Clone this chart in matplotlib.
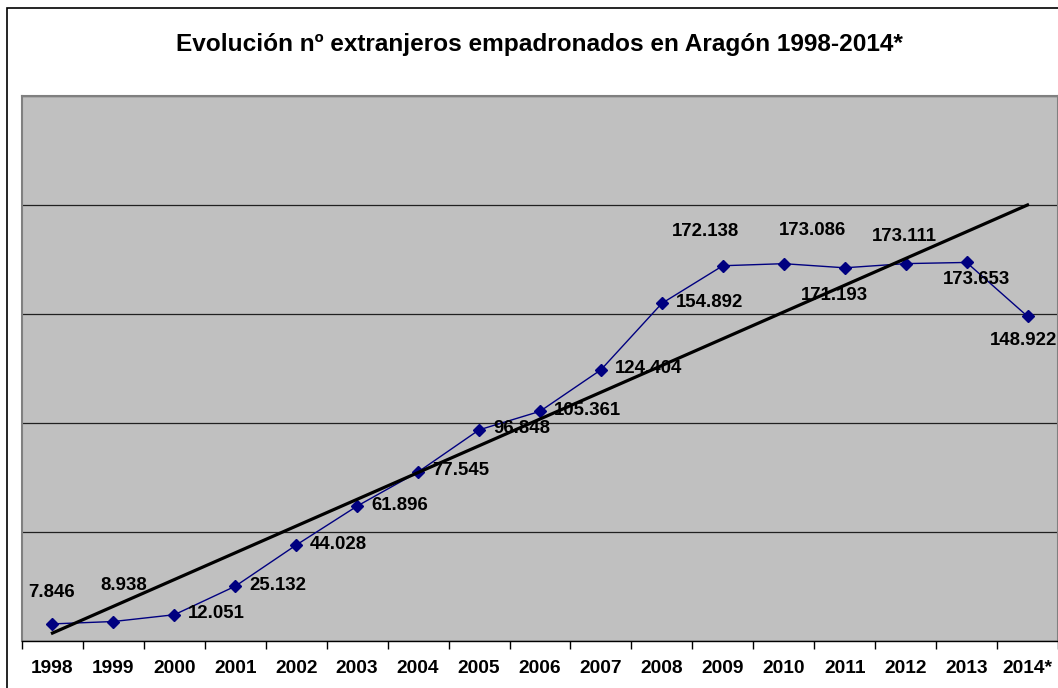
import numpy as np
import matplotlib
matplotlib.use("Agg")
import matplotlib.pyplot as plt
from matplotlib.patches import Rectangle

plt.rcParams['font.family'] = ['Liberation Sans', 'DejaVu Sans']

years = ["1998", "1999", "2000", "2001", "2002", "2003", "2004", "2005", "2006",
         "2007", "2008", "2009", "2010", "2011", "2012", "2013", "2014*"]
extranjeros = [7846, 8938, 12051, 25132, 44028, 61896, 77545, 96848, 105361,
               124404, 154892, 172138, 173086, 171193, 173111, 173653, 148922]
# label offsets in pixels (dx, dy) and alignment, as placed in the original
label_pos = [(-1, 31, 'center'), (10, 36, 'center'), (14, 1, 'left'), (14, 1, 'left'),
             (14, 1, 'left'), (14, 1, 'left'), (14, 1, 'left'), (14, 1, 'left'),
             (14, 1, 'left'), (14, 1, 'left'), (14, 1, 'left'), (-17, 34, 'center'),
             (29, 33, 'center'), (-10, -28, 'center'), (-1, 27, 'center'),
             (10, -17, 'center'), (-4, -24, 'center')]

x = np.arange(len(years))
y = np.array(extranjeros, dtype=float)

fig = plt.figure(figsize=(10.58, 6.88), dpi=100)
ax = fig.add_axes([22 / 1058, 1 - 641 / 688, 1036 / 1058, 545 / 688])
ax.set_facecolor("#C0C0C0")

# outer chart border (left + top visible)
fig.patches.append(Rectangle((7 / 1058, -0.2), 2.0, 1.2 - 8 / 688,
                             transform=fig.transFigure, fill=False,
                             edgecolor="black", linewidth=1.2))

ax.plot(x, y, color="#000080", linewidth=1.0, marker="D", markersize=6.5,
        markerfacecolor="#000080", markeredgecolor="#000080", zorder=3)

a, b = np.polyfit(x, y, 1)
ax.plot(x, a * x + b, color="black", linewidth=2.3, zorder=4)

for xi, yi, (dx, dy, ha) in zip(x, y, label_pos):
    txt = f"{int(yi):,}".replace(",", ".")
    ax.annotate(txt, (xi, yi), xytext=(dx, dy), textcoords="offset pixels",
                ha=ha, va="center", fontsize=13.4, fontweight="bold", zorder=5)

ax.set_xlim(-0.5, len(years) - 0.5)
ax.set_ylim(0, 250000)
ax.set_yticks(np.arange(0, 250001, 50000))
ax.yaxis.grid(True, color="#202020", linewidth=0.9)
ax.set_axisbelow(True)
ax.tick_params(axis="y", left=False, labelleft=False)

ax.set_xticks(x)
ax.set_xticklabels(years, fontsize=13.8, fontweight="bold")
ax.set_xticks(np.arange(-0.5, len(years), 1.0), minor=True)
ax.tick_params(axis="x", which="major", length=0, pad=14)
ax.tick_params(axis="x", which="minor", length=6, width=1, direction="out", color="black")

for side in ("top", "right", "left"):
    ax.spines[side].set_color("#808080")
    ax.spines[side].set_linewidth(1.5)
ax.spines["bottom"].set_color("black")
ax.spines["bottom"].set_linewidth(1.0)

fig.text(539 / 1058, 1 - 45 / 688, "Evolución nº extranjeros empadronados en Aragón 1998-2014*",
         ha="center", va="center", fontsize=17.6, fontweight="bold")

fig.savefig("out.png", dpi=100)
